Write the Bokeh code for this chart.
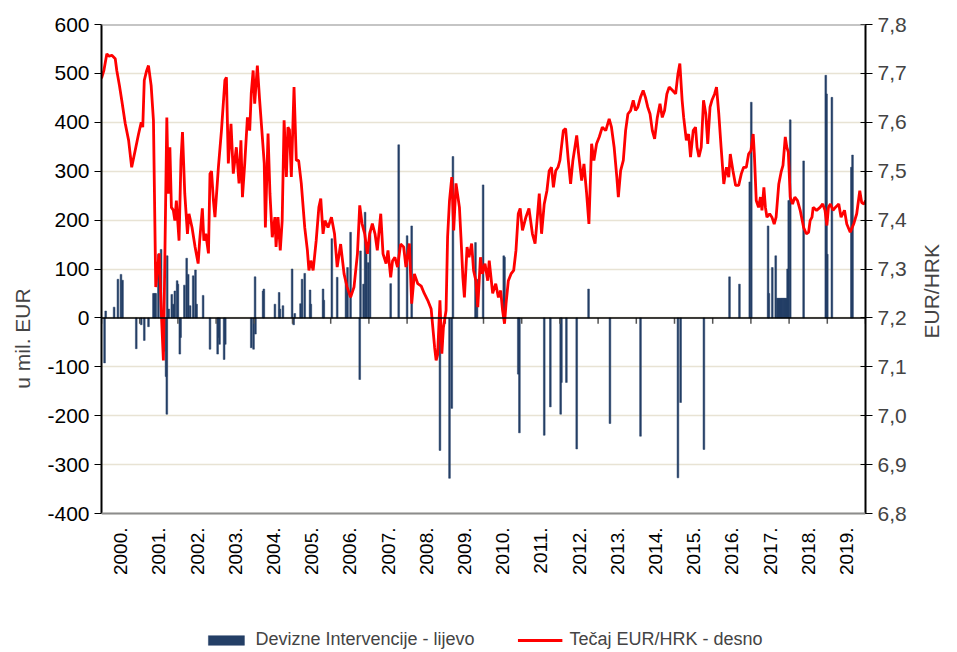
import math
from bokeh.plotting import figure
from bokeh.models import (Range1d, LinearAxis, FixedTicker, CustomJSTickFormatter,
                          Legend, LegendItem, ColumnDataSource, Span)
from bokeh.core.properties import value
from bokeh.embed import file_html
from bokeh.resources import INLINE

# ---------------- data ----------------
years = [2000, 2001, 2002, 2003, 2004, 2005, 2006, 2007, 2008, 2009,
         2010, 2011, 2012, 2013, 2014, 2015, 2016, 2017, 2018, 2019]
year_labels = ["2000.", "2001.", "2002.", "2003.", "2004.", "2005.", "2006.", "2007.",
               "2008.", "2009.", "2010.", "2011.", "2012.", "2013.", "2014.", "2015.",
               "2016.", "2017.", "2018.", "2019."]
year_bounds = [2000, 2001, 2002, 2003, 2004, 2005, 2006, 2007, 2008, 2009, 2010,
               2011, 2012, 2013, 2014, 2015, 2016, 2017, 2018, 2019, 2020]
left_ticks = [-400, -300, -200, -100, 0, 100, 200, 300, 400, 500, 600]
right_ticks = [6.8, 6.9, 7.0, 7.1, 7.2, 7.3, 7.4, 7.5, 7.6, 7.7, 7.8]

# EUR/HRK exchange rate (right axis)
rate_t = [
    2000.00, 2000.06, 2000.14, 2000.20, 2000.27, 2000.36, 2000.40, 2000.47, 2000.53, 2000.62,
    2000.71, 2000.79, 2000.88, 2000.97, 2001.04, 2001.08, 2001.12, 2001.18, 2001.23, 2001.30,
    2001.36, 2001.42, 2001.49, 2001.51, 2001.575, 2001.62, 2001.66, 2001.71, 2001.75, 2001.79,
    2001.83, 2001.88, 2001.92, 2001.96, 2002.03, 2002.08, 2002.12, 2002.18, 2002.25, 2002.29,
    2002.37, 2002.45, 2002.53, 2002.57, 2002.64, 2002.68, 2002.73, 2002.80, 2002.84, 2002.88,
    2002.93, 2002.97, 2003.06, 2003.14, 2003.23, 2003.27, 2003.32, 2003.39, 2003.45, 2003.53,
    2003.60, 2003.65, 2003.69, 2003.75, 2003.82, 2003.88, 2003.92, 2003.97, 2004.01, 2004.08,
    2004.14, 2004.21, 2004.26, 2004.29, 2004.36, 2004.41, 2004.47, 2004.54, 2004.57, 2004.62,
    2004.68, 2004.73, 2004.78, 2004.84, 2004.88, 2004.92, 2004.97, 2005.04, 2005.10, 2005.16,
    2005.23, 2005.32, 2005.39, 2005.43, 2005.48, 2005.54, 2005.62, 2005.69, 2005.74, 2005.80,
    2005.85, 2005.93, 2006.02, 2006.10, 2006.17, 2006.26, 2006.35, 2006.43, 2006.52, 2006.61,
    2006.70, 2006.76, 2006.82, 2006.89, 2006.96, 2007.02, 2007.09, 2007.16, 2007.22, 2007.31,
    2007.37, 2007.45, 2007.50, 2007.57, 2007.62, 2007.68, 2007.75, 2007.83, 2007.91, 2007.97,
    2008.06, 2008.12, 2008.19, 2008.28, 2008.37, 2008.45, 2008.54, 2008.63, 2008.72, 2008.76,
    2008.80, 2008.86, 2008.91, 2008.95, 2009.02, 2009.06, 2009.11, 2009.17, 2009.22, 2009.28,
    2009.37, 2009.41, 2009.46, 2009.50, 2009.57, 2009.62, 2009.69, 2009.74, 2009.80, 2009.85,
    2009.92, 2009.97, 2010.04, 2010.11, 2010.15, 2010.24, 2010.32, 2010.39, 2010.45, 2010.50,
    2010.55, 2010.59, 2010.65, 2010.72, 2010.79, 2010.85, 2010.91, 2010.96, 2011.02, 2011.11,
    2011.19, 2011.28, 2011.35, 2011.41, 2011.46, 2011.52, 2011.59, 2011.66, 2011.72, 2011.78,
    2011.83, 2011.89, 2011.95, 2012.00, 2012.09, 2012.15, 2012.22, 2012.28, 2012.34, 2012.44,
    2012.49, 2012.57, 2012.63, 2012.70, 2012.76, 2012.83, 2012.89, 2012.96, 2013.03, 2013.11,
    2013.20, 2013.29, 2013.35, 2013.42, 2013.49, 2013.53, 2013.59, 2013.66, 2013.72, 2013.78,
    2013.85, 2013.92, 2013.98, 2014.04, 2014.11, 2014.18, 2014.24, 2014.30, 2014.36, 2014.42,
    2014.48, 2014.55, 2014.62, 2014.68, 2014.74, 2014.80, 2014.86, 2014.95, 2015.03, 2015.09,
    2015.14, 2015.20, 2015.24, 2015.31, 2015.37, 2015.42, 2015.49, 2015.55, 2015.59, 2015.64,
    2015.70, 2015.76, 2015.82, 2015.87, 2015.93, 2015.98, 2016.05, 2016.10, 2016.16, 2016.22,
    2016.29, 2016.36, 2016.42, 2016.46, 2016.53, 2016.60, 2016.68, 2016.75, 2016.81, 2016.88,
    2016.94, 2017.00, 2017.06, 2017.09, 2017.14, 2017.20, 2017.25, 2017.29, 2017.34, 2017.38,
    2017.42, 2017.49, 2017.55, 2017.61, 2017.66, 2017.73, 2017.79, 2017.84, 2017.90, 2017.94,
    2017.98, 2018.03, 2018.09, 2018.15, 2018.22, 2018.29, 2018.38, 2018.45, 2018.51, 2018.55,
    2018.60, 2018.63, 2018.72, 2018.81, 2018.88, 2018.94, 2018.99, 2019.03, 2019.08, 2019.15,
    2019.21, 2019.30, 2019.36, 2019.45, 2019.51, 2019.60, 2019.69, 2019.77, 2019.85, 2019.90,
    2019.96, 2020.00]
rate_v = [
    7.690, 7.705, 7.740, 7.735, 7.737, 7.730, 7.706, 7.675, 7.645, 7.598,
    7.563, 7.508, 7.542, 7.576, 7.600, 7.590, 7.686, 7.705, 7.716, 7.675,
    7.604, 7.263, 7.317, 7.332, 7.195, 7.113, 7.330, 7.610, 7.454, 7.549,
    7.426, 7.420, 7.399, 7.440, 7.358, 7.522, 7.580, 7.454, 7.372, 7.413,
    7.385, 7.345, 7.311, 7.358, 7.424, 7.358, 7.372, 7.332, 7.495, 7.500,
    7.440, 7.406, 7.508, 7.583, 7.686, 7.692, 7.516, 7.597, 7.495, 7.549,
    7.475, 7.563, 7.447, 7.516, 7.610, 7.583, 7.659, 7.706, 7.638, 7.716,
    7.645, 7.570, 7.516, 7.385, 7.577, 7.454, 7.365, 7.406, 7.345, 7.406,
    7.338, 7.399, 7.604, 7.488, 7.590, 7.585, 7.488, 7.672, 7.522, 7.522,
    7.475, 7.385, 7.338, 7.297, 7.317, 7.297, 7.358, 7.426, 7.444, 7.372,
    7.399, 7.385, 7.406, 7.372, 7.304, 7.351, 7.290, 7.263, 7.242, 7.263,
    7.331, 7.430, 7.393, 7.372, 7.331, 7.372, 7.393, 7.372, 7.338, 7.413,
    7.331, 7.311, 7.338, 7.283, 7.317, 7.324, 7.304, 7.351, 7.345, 7.304,
    7.352, 7.229, 7.290, 7.270, 7.265, 7.250, 7.236, 7.218, 7.140, 7.113,
    7.125, 7.236, 7.127, 7.180, 7.215, 7.365, 7.440, 7.488, 7.379, 7.475,
    7.426, 7.365, 7.283, 7.242, 7.345, 7.324, 7.352, 7.297, 7.276, 7.222,
    7.324, 7.290, 7.311, 7.276, 7.317, 7.250, 7.270, 7.242, 7.256, 7.215,
    7.188, 7.229, 7.276, 7.290, 7.297, 7.338, 7.413, 7.424, 7.379, 7.406,
    7.424, 7.372, 7.352, 7.406, 7.454, 7.372, 7.433, 7.460, 7.501, 7.508,
    7.467, 7.501, 7.508, 7.522, 7.583, 7.587, 7.522, 7.474, 7.522, 7.573,
    7.535, 7.481, 7.515, 7.454, 7.392, 7.556, 7.522, 7.556, 7.570, 7.590,
    7.583, 7.607, 7.590, 7.549, 7.488, 7.447, 7.501, 7.522, 7.583, 7.617,
    7.624, 7.645, 7.624, 7.631, 7.651, 7.665, 7.651, 7.631, 7.617, 7.583,
    7.566, 7.610, 7.638, 7.610, 7.624, 7.658, 7.672, 7.665, 7.658, 7.699,
    7.720, 7.645, 7.610, 7.563, 7.576, 7.529, 7.583, 7.590, 7.549, 7.529,
    7.549, 7.645, 7.617, 7.556, 7.631, 7.645, 7.658, 7.672, 7.617, 7.549,
    7.474, 7.508, 7.488, 7.535, 7.501, 7.471, 7.471, 7.495, 7.508, 7.508,
    7.535, 7.542, 7.576, 7.535, 7.440, 7.426, 7.447, 7.420, 7.467, 7.426,
    7.406, 7.413, 7.406, 7.392, 7.406, 7.474, 7.498, 7.512, 7.570, 7.549,
    7.539, 7.447, 7.433, 7.447, 7.440, 7.420, 7.385, 7.372, 7.375, 7.399,
    7.406, 7.426, 7.420, 7.426, 7.433, 7.420, 7.389, 7.426, 7.433, 7.420,
    7.426, 7.433, 7.406, 7.420, 7.392, 7.375, 7.392, 7.413, 7.460, 7.436,
    7.433, 7.440]

# FX interventions, million EUR (left axis)
interv_t = [
    2000.08, 2000.11, 2000.33, 2000.43, 2000.51, 2000.55, 2000.91, 2001.04, 2001.12, 2001.23,
    2001.36, 2001.39, 2001.42, 2001.49, 2001.56, 2001.64, 2001.69, 2001.71, 2001.72, 2001.76,
    2001.84, 2001.88, 2001.92, 2001.98, 2002.00, 2002.05, 2002.07, 2002.17, 2002.23, 2002.27,
    2002.32, 2002.40, 2002.46, 2002.49, 2002.66, 2002.84, 2003.04, 2003.06, 2003.09, 2003.21,
    2003.24, 2003.92, 2003.98, 2004.02, 2004.03, 2004.23, 2004.25, 2004.54, 2004.65, 2004.67,
    2004.75, 2004.99, 2005.03, 2005.06, 2005.21, 2005.25, 2005.32, 2005.46, 2005.48, 2005.80,
    2005.82, 2006.03, 2006.17, 2006.40, 2006.44, 2006.52, 2006.76, 2006.78, 2006.86, 2006.90,
    2006.93, 2006.98, 2007.03, 2007.57, 2007.78, 2008.00, 2008.12, 2008.86, 2009.11, 2009.17,
    2009.20, 2009.79, 2009.83, 2009.99, 2010.53, 2010.55, 2010.91, 2010.94, 2011.59, 2011.75,
    2012.02, 2012.04, 2012.17, 2012.44, 2012.75, 2013.31, 2014.11, 2015.09, 2015.16, 2015.77,
    2016.44, 2016.70, 2016.97, 2017.01, 2017.45, 2017.47, 2017.56, 2017.65, 2017.69, 2017.72,
    2017.75, 2017.78, 2017.81, 2017.84, 2017.87, 2017.90, 2017.93, 2017.96, 2017.99, 2018.03,
    2018.38, 2018.96, 2018.98, 2019.00, 2019.12, 2019.63, 2019.66]
interv_v = [
    -92, 14, 22, 79, 89, 77, -63, -14, -46, -18,
    50, 50, 50, 130, 140, -68, -120, -197, 127, 18,
    48, 28, 55, 76, 69, -74, -40, 67, 122, 89,
    25, 86, 98, 28, 46, -64, -74, -40, -54, -85,
    -54, -61, -64, 84, -33, 55, 59, 28, 52, 18,
    25, 100, -14, 9, 29, 79, 91, 57, 28, 59,
    36, 162, 83, 76, 103, 175, -126, 137, 69, 216,
    137, 113, 177, 70, 354, 168, 188, -271, -328, -185,
    330, 154, 79, 272, 127, 124, -115, -235, -240, -182,
    -197, -132, -132, -268, 59, -216, -242, -327, -173, -269,
    84, 69, 278, 441, 188, 50, 103, 127, 40, 40,
    40, 40, 40, 40, 40, 40, 40, 100, 240, 405,
    321, 496, 458, 130, 451, 308, 333]

# ---------------- layout geometry ----------------
FONT = "Liberation Sans"
NAVY = "#243F66"
RED = "#FF0000"
W, H = 957, 652
B_LEFT, B_RIGHT, B_TOP = 101, 90, 24
CHART_H = 489                       # pixel height of the -400..600 value band
FRAME_H = H - B_TOP                 # frame continues down to hold year labels + legend

lv_lo, lv_hi = left_ticks[0], left_ticks[-1]
rv_lo, rv_hi = right_ticks[0], right_ticks[-1]
extra = FRAME_H / CHART_H
y_lo = lv_hi - (lv_hi - lv_lo) * extra
r_lo = rv_hi - (rv_hi - rv_lo) * extra

p = figure(width=W, height=H, output_backend="svg", toolbar_location=None,
           x_range=Range1d(year_bounds[0], year_bounds[-1]),
           y_range=Range1d(y_lo, lv_hi), x_axis_location=None,
           min_border_left=B_LEFT, min_border_right=B_RIGHT, min_border_top=B_TOP,
           min_border_bottom=0)
p.extra_y_ranges = {"rate": Range1d(r_lo, rv_hi)}
p.outline_line_color = None
p.background_fill_color = "white"

# grid
for g in p.xgrid:
    g.visible = False
p.ygrid.ticker = FixedTicker(ticks=left_ticks)
p.ygrid.grid_line_color = "#E8E3D4"
p.ygrid.grid_line_width = 1.5

# left axis
ly = p.yaxis[0]
ly.bounds = (lv_lo, lv_hi)
ly.ticker = FixedTicker(ticks=left_ticks)
ly.formatter = CustomJSTickFormatter(code="return String(tick);")
ly.axis_label = "u mil. EUR"
ly.axis_label_text_font = FONT
ly.axis_label_text_font_style = "normal"
ly.axis_label_text_font_size = "21px"
ly.axis_label_standoff = 10
ly.major_label_text_font = FONT
ly.major_label_text_font_size = "21px"
ly.major_label_text_color = "black"
ly.axis_line_color = "black"
ly.axis_line_width = 2
ly.major_tick_out = 7
ly.major_tick_in = 0
ly.major_tick_line_color = "black"
ly.minor_tick_line_color = None

# right axis
ry = LinearAxis(y_range_name="rate", ticker=FixedTicker(ticks=right_ticks),
                bounds=(rv_lo, rv_hi),
                formatter=CustomJSTickFormatter(code="return tick.toFixed(1).replace('.', ',');"))
ry.axis_label = "EUR/HRK"
ry.axis_label_orientation = math.pi / 2
ry.axis_label_text_font = FONT
ry.axis_label_text_font_style = "normal"
ry.axis_label_text_font_size = "21px"
ry.axis_label_standoff = 22
ry.major_label_text_font = FONT
ry.major_label_text_font_size = "21px"
ry.axis_line_color = "black"
ry.axis_line_width = 2
ry.major_tick_out = 7
ry.major_tick_in = 5
ry.major_tick_line_color = "black"
ry.minor_tick_line_color = None
p.add_layout(ry, "right")

# chart box top / bottom borders (grey)
p.add_layout(Span(location=lv_hi, dimension="width", line_color="#8C8C8C", line_width=2))
p.add_layout(Span(location=lv_lo, dimension="width", line_color="#8C8C8C", line_width=2))

# bars
src_b = ColumnDataSource(dict(t=interv_t, v=interv_v))
bars = p.vbar(x="t", top="v", bottom=0, width=0.045, source=src_b,
              fill_color=NAVY, line_color=NAVY, line_width=0.5)

# zero line + year tick marks on it
p.add_layout(Span(location=0, dimension="width", line_color="black", line_width=1.5))
p.segment(x0=year_bounds, y0=[0] * len(year_bounds), x1=year_bounds,
          y1=[-12] * len(year_bounds), line_color="#555555", line_width=1.5)

# exchange rate line
src_l = ColumnDataSource(dict(t=rate_t, r=rate_v))
line = p.line(x="t", y="r", source=src_l, y_range_name="rate",
              line_color=RED, line_width=2.8)

# year labels under the chart box, centred in each year, rotated
src_y = ColumnDataSource(dict(x=[y + 0.5 for y in years], y=[lv_lo] * len(years),
                              lab=year_labels))
p.text(x="x", y="y", text="lab", source=src_y, angle=math.pi / 2,
       text_align="right", text_baseline="middle", y_offset=14,
       text_font=value(FONT), text_font_size="19px", text_color="black")

legend = Legend(items=[LegendItem(label="Devizne Intervencije - lijevo", renderers=[bars]),
                       LegendItem(label="Tečaj EUR/HRK - desno", renderers=[line])],
                location="bottom_center", orientation="horizontal",
                glyph_width=45, glyph_height=12, label_standoff=7, spacing=43,
                padding=0, margin=2, border_line_color=None, background_fill_alpha=0,
                label_text_font=FONT, label_text_font_size="18px")
p.add_layout(legend)

open("out.html", "w").write(file_html(p, INLINE))
